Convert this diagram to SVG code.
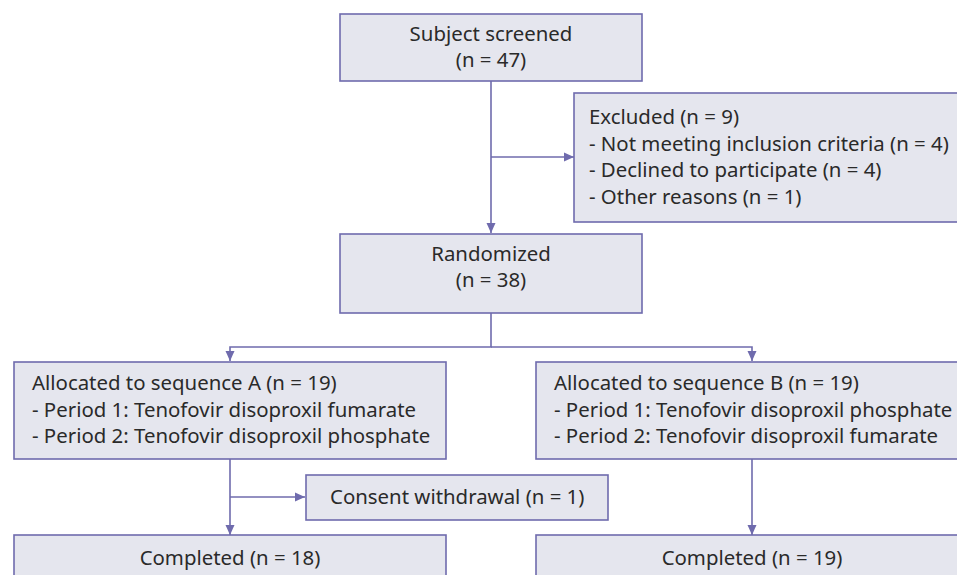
<svg xmlns="http://www.w3.org/2000/svg" width="957" height="575" viewBox="0 0 957 575">
<style>
.box{fill:#e5e6ee;stroke:#6f6bad;stroke-width:1.6}
.t{font-family:"Noto Sans","Liberation Sans",sans-serif;font-size:20.4px;fill:#2a2a2a}
.c{text-anchor:middle}
.ln{fill:none;stroke:#6f6bad;stroke-width:1.6}
</style>
<defs>
<marker id="ah" viewBox="0 0 10 10" refX="10" refY="5" markerWidth="10" markerHeight="10" markerUnits="userSpaceOnUse" orient="auto">
<path d="M0,0.5 L10,5 L0,9.5 Z" fill="#6f6bad"/>
</marker>
</defs>
<rect width="957" height="575" fill="#ffffff"/>
<g id="connectors">
<path class="ln" d="M491,81 V233" marker-end="url(#ah)"/>
<path class="ln" d="M491,157 H574" marker-end="url(#ah)"/>
<path class="ln" d="M491,313 V347 H230 V361" marker-end="url(#ah)"/>
<path class="ln" d="M491,347 H752 V361" marker-end="url(#ah)"/>
<path class="ln" d="M230,459 V535" marker-end="url(#ah)"/>
<path class="ln" d="M230,497 H305" marker-end="url(#ah)"/>
<path class="ln" d="M752,459 V535" marker-end="url(#ah)"/>
</g>
<g id="screened">
<rect class="box" x="340" y="14" width="302" height="67"/>
<text class="t c" x="491" y="41">Subject screened</text>
<text class="t c" x="491" y="67">(n = 47)</text>
</g>
<g id="excluded">
<rect class="box" x="574" y="93" width="390" height="129"/>
<text class="t" x="589" y="124">Excluded (n = 9)</text>
<text class="t" x="589" y="150.5">- Not meeting inclusion criteria (n = 4)</text>
<text class="t" x="589" y="177">- Declined to participate (n = 4)</text>
<text class="t" x="589" y="203.5">- Other reasons (n = 1)</text>
</g>
<g id="randomized">
<rect class="box" x="340" y="234" width="302" height="79"/>
<text class="t c" x="491" y="261">Randomized</text>
<text class="t c" x="491" y="287">(n = 38)</text>
</g>
<g id="seqA">
<rect class="box" x="14" y="362" width="432" height="97"/>
<text class="t" x="32" y="390">Allocated to sequence A (n = 19)</text>
<text class="t" x="32" y="416.5">- Period 1: Tenofovir disoproxil fumarate</text>
<text class="t" x="32" y="443">- Period 2: Tenofovir disoproxil phosphate</text>
</g>
<g id="seqB">
<rect class="box" x="536" y="362" width="430" height="97"/>
<text class="t" x="554" y="390">Allocated to sequence B (n = 19)</text>
<text class="t" x="554" y="416.5">- Period 1: Tenofovir disoproxil phosphate</text>
<text class="t" x="554" y="443">- Period 2: Tenofovir disoproxil fumarate</text>
</g>
<g id="consent">
<rect class="box" x="306" y="475" width="302" height="45"/>
<text class="t" x="330" y="504">Consent withdrawal (n = 1)</text>
</g>
<g id="completedA">
<rect class="box" x="14" y="535" width="432" height="60"/>
<text class="t c" x="230" y="565">Completed (n = 18)</text>
</g>
<g id="completedB">
<rect class="box" x="536" y="535" width="430" height="60"/>
<text class="t c" x="752" y="565">Completed (n = 19)</text>
</g>
</svg>
